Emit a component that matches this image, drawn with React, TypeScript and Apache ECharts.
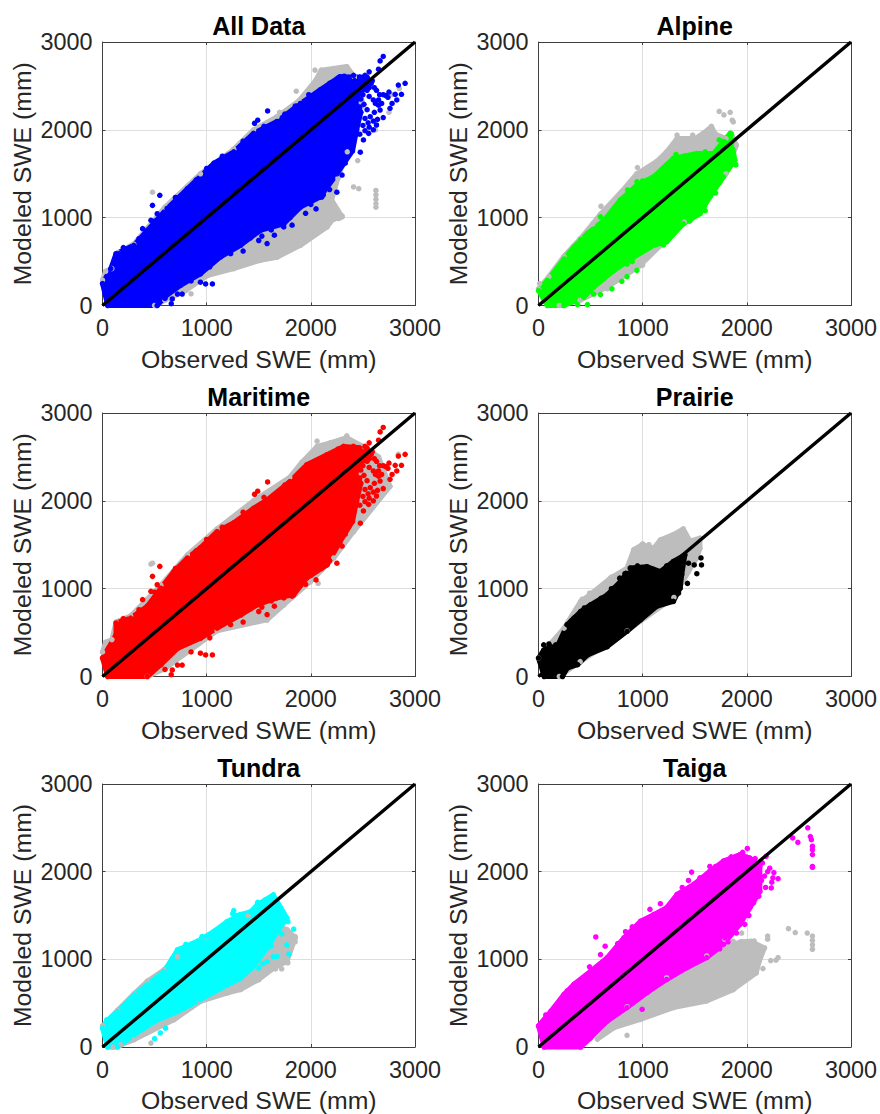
import React, { useEffect, useRef } from "react";
import * as echarts from "echarts";

type P = [number, number];

const panelTitles = ["All Data", "Alpine", "Maritime", "Prairie", "Tundra", "Taiga"];
const panelColors = ["#0000ff", "#00ff00", "#ff0000", "#000000", "#00ffff", "#ff00ff"];
const tickValues = [0, 1000, 2000, 3000];
const xName = "Observed SWE (mm)";
const yName = "Modeled SWE (mm)";
const diagonal: P[] = [[0, 0], [3000, 3000]];

// The dense part of each cloud cannot be read point by point: its outer edge is read
// from the picture as upper and lower limits; the sparse marks are read one by one.
const allUpper: P[] = [[0,250],[80,420],[130,590],[300,685],[430,855],[620,1105],[815,1330],[1070,1620],[1260,1750],[1450,1960],[1675,2095],[1900,2300],[2090,2455],[2280,2605],[2540,2600],[2560,2480],[2470,2440],[2430,2300],[2480,2200],[2440,2000]];
const allLower: P[] = [[2400,1760],[2250,1500],[2090,1235],[1900,1120],[1740,930],[1515,855],[1325,685],[1130,550],[940,360],[750,230],[600,100],[525,0],[50,0]];
const allGrayUpper: P[] = [[0,290],[30,390],[90,420],[150,600],[300,700],[600,1120],[940,1500],[1260,1780],[1450,2000],[1675,2150],[1885,2330],[2045,2560],[2100,2680],[2345,2720],[2420,2600],[2500,2300]];
const allGrayLower: P[] = [[2350,1750],[2260,1450],[2200,1200],[2300,1010],[2210,980],[2155,895],[1900,685],[1675,550],[1515,515],[1260,420],[1005,340],[800,170],[600,60],[500,0]];
const maritimeDots: P[] = [[2695,2835],[2665,2785],[2905,2530],[2840,2510],[2870,2405],[2810,2405],[2825,2340],[2760,2245],[2780,2300],[2695,2400],[2650,2340],[2665,2225],[2695,2140],[2630,2055],[2600,2000],[2555,1960],[2505,1885],[2475,1745],[2410,2040],[2440,2150],[2540,2230],[2600,2340],[2540,2450],[2630,2450],[2475,2530],[2410,2620],[2320,2610],[2190,2530],[2560,2660],[2650,2690],[2520,2130],[2470,2260],[2580,2530],[2500,2400],[2440,1950],[1055,245],[990,245],[940,265],[765,130],[720,130],[670,75],[660,20],[1580,705],[1500,740],[1820,915],[1740,895],[2105,1235],[2300,1485],[550,1255],[480,1140],[525,1045],[465,970],[385,875],[160,590],[1490,2110],[1585,2215],[1460,2075],[2750,2430],[2680,2300],[2420,2560],[2470,2600],[2520,2620],[2590,2560],[2540,2520],[2610,2480],[2660,2400],[2620,2300],[2560,2380],[2480,2350],[2510,2290],[2610,2200],[2570,2150],[2640,2120],[2500,2050],[2550,2080],[2470,1950],[2520,1990],[2560,2030],[2600,2100],[2650,2280],[2720,2390],[2740,2370],[200,660],[350,760],[500,960],[700,1230],[900,1430],[1000,1560],[1150,1700],[1350,1870],[1550,2040],[1750,2180],[1850,2270],[1980,2400],[2180,2530],[2260,2590],[600,80],[850,280],[1030,440],[1230,590],[1420,770],[1620,860],[1800,1000],[2000,1150],[2180,1320],[2330,1620],[1350,620],[1530,790],[1650,800],[1950,1050],[2050,1100],[2250,1290],[2120,1260]];
const allGrayDots: P[] = [[2460,1330],[2410,1350],[2625,1310],[2625,1260],[2625,1210],[2625,1160],[2625,1120],[850,133],[2300,1020],[2230,985],[2155,895],[1700,2200],[1860,2440],[2040,2680],[2200,2660],[2780,2400],[2850,2470],[2750,2200],[2620,2000],[2450,1650],[2270,990],[480,1290]];

const alpineUpper: P[] = [[0,170],[85,285],[245,530],[340,665],[470,820],[630,970],[785,1200],[945,1370],[1105,1465],[1295,1675],[1520,1730],[1680,1730],[1775,1865],[1840,1960]];
const alpineLower: P[] = [[1885,1655],[1775,1465],[1645,1235],[1550,1045],[1390,930],[1230,725],[1105,685],[915,550],[725,400],[530,210],[435,95],[245,0],[85,0]];
const alpineDots: P[] = [[375,10],[470,10],[530,130],[595,125],[705,190],[800,275],[850,330],[945,400],[1885,1620],[1855,1675],[1735,1885],[1790,1860],[945,1410],[855,1315],[595,1010],[405,750],[1850,1950],[1895,1600],[1000,1420],[1200,1560],[1320,1720],[1400,1700],[1600,1750],[1700,1720],[1450,960],[1600,1080],[1700,1280],[1740,1400],[1200,690],[1150,730],[900,500],[850,470],[620,300],[500,170]];
const alpineGrayUpper: P[] = [[0,190],[100,330],[245,560],[400,760],[520,930],[595,1040],[800,1300],[945,1500],[1135,1640],[1230,1750],[1330,1900],[1505,1900],[1580,1960],[1660,2035],[1700,1950],[1800,1900],[1850,1960],[1900,1825]];
const alpineGrayLower: P[] = [[1800,1500],[1400,950],[975,455],[660,210],[400,60],[200,0]];
const alpineGrayDots: P[] = [[1735,2210],[1780,2170],[1840,2200],[1870,2090],[1860,2110],[1330,1940],[950,1570],[600,1130],[950,450],[1000,460],[660,190],[10,250],[1660,2040],[1480,1940]];

const maritimeUpper: P[] = [[0,210],[130,475],[130,610],[270,665],[430,800],[560,1005],[685,1195],[815,1350],[940,1465],[1100,1650],[1260,1750],[1450,1915],[1580,2010],[1800,2220],[1960,2410],[2155,2525],[2315,2620],[2540,2600],[2560,2480],[2470,2440],[2430,2300],[2480,2200],[2440,2000]];
const maritimeLower: P[] = [[2400,1765],[2280,1535],[2155,1270],[1960,1120],[1835,930],[1675,895],[1485,815],[1325,700],[1100,550],[940,435],[720,320],[560,135],[430,0],[50,0]];
const maritimeGrayUpper: P[] = [[0,280],[30,390],[90,420],[130,620],[270,690],[560,1040],[815,1385],[1100,1680],[1450,2000],[1800,2270],[1915,2440],[2060,2620],[2185,2660],[2345,2720],[2500,2620],[2650,2500]];
const maritimeGrayLower: P[] = [[2760,2165],[2410,1650],[2220,1350],[1995,1080],[1740,815],[1580,645],[1100,520],[600,90],[430,0]];
const maritimeGrayDots: P[] = [[480,1290],[465,1280],[1580,645],[2410,1650],[2750,2165],[2070,1060],[1740,815],[2840,2530],[2690,2300],[2060,2680],[2345,2740]];

const prairieUpper: P[] = [[0,210],[50,300],[120,340],[180,340],[275,590],[405,740],[500,815],[660,930],[785,1080],[880,1235],[1040,1250],[1170,1195],[1295,1310],[1405,1385]];
const prairieLower: P[] = [[1375,1160],[1360,1005],[1295,855],[1135,800],[980,645],[850,515],[660,340],[470,245],[375,135],[275,95],[230,0],[55,0]];
const prairieDots: P[] = [[1560,1350],[1565,1270],[1520,1170],[1430,1060],[1495,1270],[1440,1290],[1400,1365],[900,1225],[725,1005],[820,1065],[340,665],[310,625],[1345,950],[50,360],[100,370],[165,360],[320,640],[440,780],[600,890],[700,1000],[780,1120],[830,1170],[950,1260],[1100,1220],[1230,1260]];
const prairieGrayUpper: P[] = [[0,210],[120,380],[245,550],[405,855],[515,950],[690,1120],[850,1235],[915,1445],[995,1500],[1105,1460],[1170,1555],[1295,1615],[1390,1680],[1455,1540],[1550,1575],[1550,1460],[1520,1350],[1440,1195]];
const prairieGrayLower: P[] = [[1300,900],[850,520],[400,170],[200,0]];
const prairieGrayDots: P[] = [[1000,1510],[1390,1670],[1450,1550],[1540,1560],[915,1440],[490,950],[1060,1500],[700,1130],[420,880]];

const tundraUpper: P[] = [[0,215],[50,310],[145,405],[305,595],[430,710],[590,860],[670,1010],[720,1110],[910,1205],[1070,1320],[1195,1430],[1320,1510],[1420,1540],[1485,1620],[1565,1680],[1640,1735]];
const tundraLower: P[] = [[1770,1470],[1710,1375],[1580,1130],[1450,920],[1325,785],[1135,670],[940,540],[720,405],[495,290],[305,140],[145,0],[50,0]];
const tundraDots: P[] = [[1835,1345],[1780,1430],[1710,1430],[1770,1165],[1790,1060],[1675,1035],[1580,975],[1500,900],[605,215],[555,160],[500,95],[40,310],[955,1260],[1260,1555],[1490,1650],[1570,1680],[1640,1730],[1700,1530],[1250,1520],[1290,1500],[800,1170],[1000,1260],[400,680],[660,950],[1620,1150],[1720,1290],[1640,1030],[1540,950]];
const tundraGrayUpper: P[] = [[0,240],[145,420],[305,610],[430,750],[590,880],[720,1030],[1000,1250],[1400,1500],[1770,1340],[1850,1245]];
const tundraGrayLower: P[] = [[1770,975],[1645,900],[1500,770],[1325,655],[1195,615],[940,520],[685,310],[305,85],[175,25],[100,0]];
const tundraGrayDots: P[] = [[465,45],[1500,770],[1660,890],[1720,890],[1780,960],[1850,1200],[1850,1260],[1770,1340],[175,25]];

const taigaUpper: P[] = [[0,240],[120,410],[245,600],[340,715],[500,865],[660,1020],[820,1245],[980,1435],[1105,1510],[1230,1590],[1330,1740],[1490,1855],[1645,2005],[1775,2120],[1935,2195],[2030,2155],[2125,2060]];
const taigaLower: P[] = [[2125,1775],[2030,1590],[1935,1400],[1775,1170],[1615,1020],[1425,905],[1230,770],[1040,620],[850,450],[660,295],[500,105],[405,0],[55,0]];
const taigaDots: P[] = [[2585,2500],[2620,2365],[2630,2290],[2630,2195],[2630,2060],[2490,2335],[2440,2385],[2250,1930],[2235,1815],[2185,2175],[2005,2265],[2115,1720],[2065,1645],[1980,1400],[1790,1245],[1695,1130],[995,430],[550,1255],[640,1150],[595,1055],[490,915],[835,1315],[1470,1995],[1645,2060],[1440,1900],[1070,1570],[1170,1635],[70,365],[275,640],[2300,1920],[2200,2000],[2140,1900],[2080,2150],[2170,1950],[1900,2170],[2610,2400],[2630,2250],[2630,2050],[2240,1880],[1380,1820],[1550,1930],[1700,2060],[1850,2170],[1960,2220],[900,1370],[760,1180],[2260,1990],[2150,2100],[2220,2040],[2000,1510],[1900,1300],[1820,1200],[1740,1120],[2020,1500],[2090,1850],[2180,1820]];
const taigaGrayUpper: P[] = [[850,460],[1230,790],[1615,1040],[1785,1130],[1940,1200],[2040,1205],[2170,1130],[2120,980]];
const taigaGrayLower: P[] = [[2090,845],[1870,655],[1615,525],[1295,450],[980,315],[725,220],[565,90]];
const taigaGrayDots: P[] = [[2400,1350],[2465,1305],[2580,1300],[2630,1265],[2630,1215],[2630,1165],[2630,1115],[2200,1265],[2300,1020],[2230,985],[2155,895],[850,133],[1950,1300],[1870,1205],[1790,1225],[2070,1210],[2000,1170],[2200,1230],[2280,990]];

const uppers = [allUpper, alpineUpper, maritimeUpper, prairieUpper, tundraUpper, taigaUpper];
const lowers = [allLower, alpineLower, maritimeLower, prairieLower, tundraLower, taigaLower];
const dots = [maritimeDots, alpineDots, maritimeDots, prairieDots, tundraDots, taigaDots];
const grayUppers = [allGrayUpper, alpineGrayUpper, maritimeGrayUpper, prairieGrayUpper, tundraGrayUpper, taigaGrayUpper];
const grayLowers = [allGrayLower, alpineGrayLower, maritimeGrayLower, prairieGrayLower, tundraGrayLower, taigaGrayLower];
const grayDots = [allGrayDots, alpineGrayDots, maritimeGrayDots, prairieGrayDots, tundraGrayDots, taigaGrayDots];

const FONT = "'Liberation Sans', Arial, sans-serif";
const GRAY = "#bdbdbd";
const lefts = [102.5, 538.5];
const tops = [42, 413, 784];
const W = 312.5;
const H = 263.5;

function cloud(i: number, poly: P[], pts: P[], color: string): any[] {
  const shape = {
    type: "custom",
    xAxisIndex: i * 2,
    yAxisIndex: i * 2,
    data: poly,
    silent: true,
    clip: false,
    renderItem: (params: any, api: any) =>
      params.dataIndex !== 0
        ? null
        : {
            type: "polygon",
            shape: { points: poly.map((p) => api.coord(p)) },
            style: { fill: color, stroke: color, lineWidth: 5, lineJoin: "round" },
          },
  };
  const marks = {
    type: "scatter",
    xAxisIndex: i * 2,
    yAxisIndex: i * 2,
    data: [...poly, ...pts],
    symbolSize: 5.5,
    silent: true,
    clip: false,
    itemStyle: { color, opacity: 1 },
  };
  return [shape, marks];
}

export default function App() {
  const ref = useRef<HTMLDivElement>(null);
  useEffect(() => {
    document.body.style.margin = "0";
    const chart = echarts.init(ref.current!, undefined, { renderer: "svg" });
    const grid: any[] = [];
    const xAxis: any[] = [];
    const yAxis: any[] = [];
    const title: any[] = [];
    const series: any[] = [];
    panelTitles.forEach((name, i) => {
      const left = lefts[i % 2];
      const top = tops[Math.floor(i / 2)];
      grid.push({ left, top, width: W, height: H, show: false });
      title.push({
        text: name,
        left: left + W / 2,
        top: top - 29,
        padding: 0,
        textAlign: "center",
        textStyle: { fontFamily: FONT, fontSize: 25, fontWeight: "bold", color: "#000" },
      });
      const base = {
        gridIndex: i,
        type: "value",
        min: 0,
        max: 3000,
        interval: 1000,
        z: 1,
        axisLine: { show: true, onZero: false, lineStyle: { color: "#404040", width: 1 } },
        axisTick: { show: true, inside: true, length: 3, lineStyle: { color: "#404040", width: 1 } },
        splitLine: { show: true, lineStyle: { color: "#dedede", width: 1 } },
      };
      const label = {
        show: true,
        fontFamily: FONT,
        fontSize: 23.4,
        color: "#262626",
        formatter: (v: number) => (tickValues.includes(v) ? String(v) : ""),
      };
      const nameStyle = { fontFamily: FONT, fontSize: 24.8, color: "#262626" };
      xAxis.push({
        ...base,
        position: "bottom",
        name: xName,
        nameLocation: "middle",
        nameGap: 41,
        nameTextStyle: nameStyle,
        axisLabel: { ...label, margin: 11, hideOverlap: false },
      });
      xAxis.push({ ...base, position: "top", splitLine: { show: false }, axisLabel: { show: false } });
      yAxis.push({
        ...base,
        position: "left",
        name: yName,
        nameLocation: "middle",
        nameGap: 68,
        nameTextStyle: nameStyle,
        axisLabel: { ...label, margin: 10, hideOverlap: false, padding: [2, 0, 0, 0] },
      });
      yAxis.push({ ...base, position: "right", splitLine: { show: false }, axisLabel: { show: false } });

      series.push(...cloud(i, [...grayUppers[i], ...grayLowers[i]], grayDots[i], GRAY));
      series.push(...cloud(i, [...uppers[i], ...lowers[i]], dots[i], panelColors[i]));
      series.push({
        type: "line",
        xAxisIndex: i * 2,
        yAxisIndex: i * 2,
        data: diagonal,
        symbol: "none",
        silent: true,
        lineStyle: { color: "#000", width: 3.4 },
      });
    });
    chart.setOption({ animation: false, backgroundColor: "#fff", grid, title, xAxis, yAxis, series });
    return () => chart.dispose();
  }, []);
  return <div ref={ref} style={{ width: 880, height: 1114, position: "absolute", left: 0, top: 0 }} />;
}
